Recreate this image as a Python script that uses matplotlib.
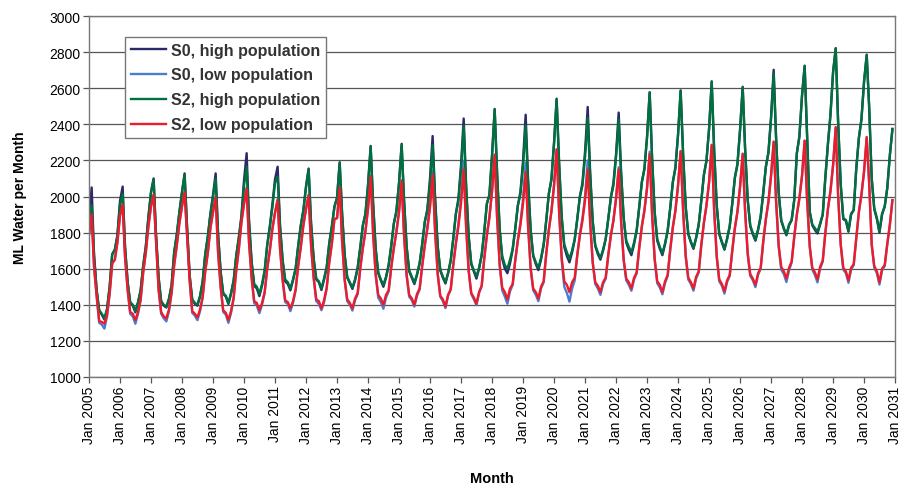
import numpy as np
import pandas as pd
import matplotlib
matplotlib.use("Agg")
import matplotlib.pyplot as plt
import matplotlib.dates as mdates
from datetime import datetime

plt.rcParams['font.family'] = ['Liberation Sans', 'DejaVu Sans']

years = list(range(2005, 2031))

# monthly demand, ML per month, one row per year (Jan..Dec)
s0_high = [
    [1860, 2050, 1680, 1480, 1365, 1345, 1318, 1375, 1500, 1680, 1705, 1785],
    [1975, 2055, 1725, 1525, 1410, 1395, 1358, 1410, 1480, 1615, 1725, 1885],
    [2025, 2100, 1790, 1550, 1415, 1395, 1385, 1430, 1510, 1690, 1790, 1910],
    [2025, 2128, 1830, 1560, 1425, 1405, 1395, 1445, 1530, 1680, 1780, 1905],
    [2010, 2128, 1795, 1580, 1460, 1445, 1405, 1460, 1535, 1670, 1775, 1890],
    [2090, 2240, 1870, 1635, 1505, 1490, 1448, 1505, 1585, 1730, 1835, 1955],
    [2095, 2165, 1845, 1645, 1530, 1515, 1480, 1535, 1600, 1725, 1840, 1925],
    [2055, 2155, 1850, 1650, 1540, 1525, 1482, 1540, 1605, 1740, 1835, 1945],
    [1995, 2190, 1910, 1675, 1550, 1520, 1488, 1535, 1605, 1715, 1840, 1905],
    [2065, 2280, 1970, 1710, 1575, 1535, 1500, 1550, 1620, 1725, 1850, 1920],
    [2075, 2292, 1985, 1720, 1585, 1550, 1515, 1565, 1630, 1735, 1860, 1930],
    [2100, 2335, 2000, 1725, 1590, 1550, 1518, 1575, 1645, 1765, 1905, 1990],
    [2175, 2432, 2070, 1780, 1625, 1585, 1545, 1600, 1675, 1805, 1960, 2010],
    [2230, 2485, 2135, 1815, 1655, 1600, 1575, 1630, 1705, 1820, 1950, 2025],
    [2195, 2453, 2100, 1815, 1670, 1625, 1592, 1650, 1730, 1865, 2015, 2095],
    [2295, 2542, 2185, 1880, 1720, 1670, 1635, 1690, 1760, 1875, 2000, 2075],
    [2250, 2496, 2145, 1865, 1725, 1680, 1650, 1700, 1765, 1875, 1995, 2075],
    [2235, 2465, 2140, 1880, 1745, 1705, 1675, 1735, 1810, 1940, 2080, 2155],
    [2330, 2578, 2220, 1910, 1755, 1710, 1675, 1735, 1810, 1935, 2080, 2160],
    [2340, 2588, 2235, 1940, 1790, 1745, 1710, 1770, 1845, 1975, 2120, 2200],
    [2375, 2638, 2265, 1950, 1790, 1745, 1705, 1765, 1835, 1960, 2105, 2180],
    [2370, 2608, 2270, 1980, 1835, 1790, 1755, 1815, 1890, 2020, 2165, 2245],
    [2440, 2702, 2330, 2020, 1865, 1820, 1785, 1840, 1870, 1980, 2240, 2335],
    [2560, 2725, 2325, 1915, 1840, 1815, 1795, 1845, 1900, 2100, 2290, 2455],
    [2690, 2822, 2415, 2065, 1875, 1865, 1805, 1900, 1925, 2155, 2325, 2430],
    [2640, 2786, 2505, 2100, 1930, 1875, 1800, 1900, 1945, 2045, 2230, 2375],
]

s0_low = [
    [1790, 1905, 1610, 1445, 1300, 1290, 1268, 1335, 1460, 1630, 1650, 1745],
    [1895, 1960, 1665, 1480, 1350, 1335, 1295, 1350, 1425, 1580, 1690, 1835],
    [1945, 2010, 1760, 1480, 1350, 1325, 1308, 1365, 1465, 1620, 1730, 1850],
    [1945, 2025, 1785, 1530, 1355, 1340, 1315, 1365, 1440, 1585, 1690, 1825],
    [1915, 2000, 1690, 1495, 1360, 1345, 1300, 1355, 1435, 1590, 1710, 1855],
    [1960, 2050, 1745, 1545, 1410, 1395, 1354, 1400, 1465, 1600, 1700, 1820],
    [1910, 1985, 1710, 1535, 1415, 1405, 1365, 1410, 1480, 1615, 1720, 1840],
    [1930, 2010, 1725, 1545, 1420, 1405, 1370, 1415, 1490, 1635, 1740, 1875],
    [1880, 2055, 1755, 1535, 1420, 1400, 1368, 1425, 1460, 1600, 1715, 1805],
    [1935, 2115, 1800, 1565, 1440, 1415, 1378, 1440, 1475, 1605, 1715, 1805],
    [1915, 2090, 1790, 1560, 1445, 1425, 1390, 1450, 1485, 1615, 1730, 1830],
    [1950, 2140, 1810, 1570, 1445, 1420, 1382, 1450, 1485, 1620, 1740, 1850],
    [1985, 2198, 1850, 1590, 1460, 1430, 1398, 1465, 1505, 1655, 1785, 1885],
    [2030, 2232, 1885, 1615, 1480, 1445, 1406, 1475, 1510, 1645, 1760, 1855],
    [1985, 2188, 1855, 1600, 1480, 1455, 1420, 1490, 1525, 1680, 1815, 1915],
    [2060, 2262, 1915, 1645, 1500, 1465, 1418, 1490, 1535, 1675, 1790, 1880],
    [2000, 2200, 1880, 1635, 1515, 1490, 1455, 1515, 1545, 1675, 1785, 1870],
    [1995, 2162, 1870, 1645, 1535, 1510, 1478, 1540, 1575, 1715, 1835, 1925],
    [2050, 2248, 1910, 1650, 1520, 1495, 1458, 1520, 1560, 1705, 1830, 1920],
    [2060, 2252, 1920, 1665, 1540, 1515, 1478, 1545, 1580, 1730, 1855, 1950],
    [2080, 2287, 1930, 1665, 1530, 1505, 1462, 1525, 1560, 1700, 1825, 1915],
    [2055, 2238, 1920, 1680, 1560, 1535, 1498, 1565, 1600, 1750, 1875, 1970],
    [2115, 2300, 1975, 1720, 1595, 1570, 1526, 1590, 1635, 1775, 1900, 1990],
    [2115, 2308, 1975, 1720, 1595, 1565, 1524, 1600, 1640, 1795, 1930, 2030],
    [2175, 2380, 2005, 1730, 1595, 1575, 1522, 1595, 1620, 1770, 1915, 2010],
    [2140, 2325, 2080, 1730, 1605, 1575, 1512, 1590, 1615, 1735, 1845, 1980],
]

s2_high = [
    [1840, 1950, 1670, 1480, 1370, 1350, 1325, 1375, 1500, 1680, 1705, 1780],
    [1955, 2015, 1720, 1525, 1415, 1400, 1365, 1415, 1480, 1615, 1720, 1880],
    [2020, 2095, 1790, 1550, 1420, 1400, 1390, 1435, 1510, 1690, 1790, 1910],
    [2020, 2120, 1830, 1560, 1430, 1410, 1400, 1450, 1530, 1680, 1780, 1900],
    [2000, 2097, 1790, 1580, 1465, 1450, 1410, 1465, 1535, 1670, 1770, 1880],
    [2060, 2165, 1850, 1635, 1515, 1500, 1460, 1515, 1590, 1730, 1830, 1940],
    [2075, 2110, 1830, 1645, 1540, 1525, 1490, 1540, 1600, 1725, 1840, 1920],
    [2050, 2150, 1850, 1655, 1545, 1530, 1490, 1545, 1610, 1740, 1835, 1940],
    [1990, 2185, 1910, 1675, 1555, 1525, 1495, 1540, 1605, 1715, 1840, 1900],
    [2060, 2276, 1970, 1710, 1580, 1540, 1510, 1555, 1620, 1725, 1850, 1915],
    [2070, 2285, 1980, 1720, 1590, 1555, 1522, 1570, 1630, 1735, 1860, 1920],
    [2070, 2285, 1980, 1720, 1595, 1555, 1525, 1575, 1645, 1765, 1905, 1975],
    [2155, 2390, 2055, 1775, 1630, 1590, 1557, 1605, 1675, 1805, 1960, 2005],
    [2225, 2480, 2135, 1820, 1670, 1620, 1600, 1650, 1710, 1820, 1950, 2010],
    [2170, 2393, 2080, 1810, 1675, 1635, 1605, 1660, 1735, 1865, 2015, 2090],
    [2290, 2538, 2185, 1885, 1735, 1690, 1655, 1700, 1765, 1875, 2000, 2060],
    [2220, 2435, 2125, 1860, 1730, 1690, 1660, 1705, 1765, 1875, 1995, 2060],
    [2220, 2425, 2130, 1880, 1755, 1720, 1690, 1745, 1815, 1940, 2080, 2150],
    [2325, 2575, 2220, 1915, 1765, 1720, 1685, 1740, 1810, 1935, 2080, 2155],
    [2340, 2585, 2235, 1940, 1795, 1750, 1715, 1770, 1845, 1975, 2120, 2195],
    [2375, 2636, 2265, 1950, 1795, 1750, 1710, 1765, 1835, 1960, 2105, 2175],
    [2370, 2605, 2270, 1980, 1840, 1795, 1760, 1815, 1890, 2020, 2165, 2240],
    [2430, 2680, 2325, 2020, 1870, 1825, 1790, 1845, 1870, 1980, 2240, 2330],
    [2560, 2722, 2325, 1915, 1845, 1825, 1805, 1850, 1900, 2100, 2290, 2450],
    [2690, 2820, 2415, 2065, 1880, 1870, 1810, 1905, 1925, 2155, 2325, 2425],
    [2635, 2782, 2505, 2100, 1935, 1880, 1806, 1905, 1945, 2045, 2230, 2372],
]

s2_low = [
    [1790, 1900, 1615, 1450, 1310, 1305, 1295, 1345, 1465, 1630, 1650, 1745],
    [1895, 1955, 1670, 1485, 1360, 1350, 1315, 1360, 1430, 1580, 1690, 1835],
    [1945, 2010, 1765, 1485, 1360, 1335, 1325, 1375, 1470, 1620, 1730, 1850],
    [1945, 2025, 1790, 1535, 1365, 1350, 1330, 1375, 1445, 1585, 1690, 1825],
    [1915, 1995, 1695, 1500, 1370, 1355, 1315, 1365, 1440, 1590, 1710, 1855],
    [1960, 2042, 1745, 1550, 1420, 1410, 1370, 1410, 1470, 1600, 1700, 1820],
    [1910, 1980, 1715, 1540, 1425, 1415, 1380, 1420, 1485, 1615, 1720, 1840],
    [1930, 2005, 1730, 1550, 1430, 1420, 1380, 1425, 1495, 1635, 1740, 1875],
    [1880, 2050, 1760, 1540, 1430, 1410, 1380, 1435, 1465, 1600, 1715, 1805],
    [1935, 2110, 1805, 1570, 1455, 1435, 1400, 1455, 1480, 1605, 1715, 1800],
    [1915, 2085, 1790, 1565, 1455, 1435, 1400, 1460, 1490, 1615, 1730, 1820],
    [1940, 2120, 1805, 1570, 1450, 1430, 1390, 1455, 1485, 1620, 1740, 1835],
    [1965, 2150, 1830, 1585, 1465, 1440, 1405, 1470, 1505, 1655, 1785, 1885],
    [2030, 2230, 1890, 1625, 1495, 1470, 1430, 1490, 1515, 1645, 1755, 1840],
    [1960, 2135, 1835, 1600, 1490, 1470, 1435, 1500, 1530, 1680, 1815, 1915],
    [2060, 2260, 1920, 1660, 1530, 1510, 1470, 1525, 1550, 1675, 1785, 1865],
    [1980, 2150, 1860, 1635, 1525, 1505, 1470, 1525, 1550, 1675, 1785, 1865],
    [1985, 2150, 1865, 1650, 1545, 1525, 1490, 1550, 1580, 1715, 1835, 1920],
    [2045, 2235, 1905, 1655, 1530, 1510, 1470, 1530, 1565, 1705, 1830, 1920],
    [2060, 2250, 1925, 1670, 1550, 1525, 1490, 1555, 1585, 1730, 1855, 1950],
    [2080, 2285, 1935, 1670, 1540, 1515, 1475, 1535, 1565, 1700, 1825, 1915],
    [2055, 2235, 1925, 1685, 1570, 1545, 1510, 1575, 1605, 1750, 1875, 1970],
    [2115, 2305, 1980, 1730, 1610, 1585, 1545, 1605, 1640, 1775, 1900, 1990],
    [2115, 2310, 1980, 1725, 1605, 1580, 1540, 1610, 1645, 1795, 1930, 2030],
    [2175, 2385, 2010, 1735, 1605, 1585, 1535, 1605, 1625, 1770, 1915, 2010],
    [2140, 2330, 2085, 1735, 1615, 1585, 1525, 1600, 1620, 1735, 1845, 1980],
]

labels = ["S0, high population", "S0, low population",
          "S2, high population", "S2, low population"]
colors = ["#2b2a66", "#4a7dd0", "#00703f", "#ee1c2a"]

months = pd.date_range(f"{years[0]}-01-01", periods=12 * len(years), freq="MS")

fig = plt.figure(figsize=(9.02, 4.89), dpi=100)
ax = fig.add_axes([0.0987, 0.227, 0.8936, 0.7382])

for series, lab, col in zip([s0_high, s0_low, s2_high, s2_low], labels, colors):
    ax.plot(months, np.ravel(series), color=col, lw=1.7, label=lab)

ax.set_ylim(1000, 3000)
ax.set_yticks(range(1000, 3001, 200))
ax.set_xlim(datetime(2005, 1, 1), datetime(2031, 1, 1))
ax.set_xticks([datetime(y, 1, 1) for y in range(2005, 2032)])
ax.xaxis.set_major_formatter(mdates.DateFormatter("%b %Y"))
plt.setp(ax.get_xticklabels(), rotation=90, fontsize=10)
plt.setp(ax.get_yticklabels(), fontsize=10)

ax.grid(axis="y", color="#555555", lw=0.9)
ax.set_axisbelow(True)
for sp in ax.spines.values():
    sp.set_color("#777777")
    sp.set_linewidth(1.0)
ax.tick_params(axis="both", color="#555555", length=4, width=0.9, pad=2)

ax.set_ylabel("ML Water per Month", fontsize=10, fontweight="bold", labelpad=16)
ax.set_xlabel("Month", fontsize=10.5, fontweight="bold", labelpad=20)

leg = ax.legend(loc="upper left", bbox_to_anchor=(0.045, 0.942),
                prop={"weight": "bold", "size": 11.5}, fancybox=False,
                edgecolor="#777777", framealpha=1, handlelength=2.2,
                handletextpad=0.3, labelspacing=0.62, borderpad=0.35,
                borderaxespad=0)
leg.get_frame().set_linewidth(1.0)
for t in leg.get_texts():
    t.set_color("#333333")

fig.savefig("out.png", dpi=100)
